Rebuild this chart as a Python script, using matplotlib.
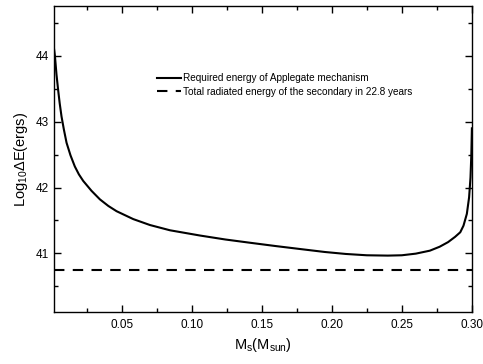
import numpy as np
import matplotlib
matplotlib.use("Agg")
import matplotlib.pyplot as plt
from matplotlib.ticker import MultipleLocator

plt.rcParams['font.family'] = ['Liberation Sans', 'DejaVu Sans']
plt.rcParams['mathtext.fontset'] = 'custom'
plt.rcParams['mathtext.rm'] = 'Liberation Sans'
plt.rcParams['mathtext.it'] = 'Liberation Sans'

# Datos
masa = [0.0018, 0.0024, 0.0035, 0.0047, 0.0058, 0.0071, 0.0088, 0.0107, 0.0135,
        0.0166, 0.0195, 0.0226, 0.0285, 0.0345, 0.0405, 0.0464, 0.0583,
        0.0702, 0.0845, 0.106, 0.124, 0.1418, 0.16, 0.1774, 0.195, 0.21,
        0.225, 0.24, 0.25, 0.26, 0.27, 0.277, 0.283, 0.288, 0.2917, 0.294,
        0.2964, 0.298, 0.299, 0.2996, 0.3]
energia_applegate = [44.10, 44.0, 43.72, 43.48, 43.28, 43.08, 42.88, 42.68, 42.49,
                     42.32, 42.20, 42.10, 41.95, 41.82, 41.72, 41.64, 41.52,
                     41.43, 41.35, 41.27, 41.21, 41.16, 41.11, 41.065, 41.02, 40.99,
                     40.97, 40.965, 40.97, 40.995, 41.04, 41.10, 41.17, 41.25, 41.32, 41.42,
                     41.60, 41.85, 42.15, 42.5, 42.9]
energia_radiada = 40.74

fig = plt.figure(figsize=(4.83, 3.64), dpi=100)
ax = fig.add_axes([0.112, 0.1415, 0.865, 0.842])

ax.plot(masa, energia_applegate, color='black', lw=1.5,
        label='Required energy of Applegate mechanism')
ax.axhline(energia_radiada, color='black', lw=1.5, ls=(0, (5, 4)),
           label='Total radiated energy of the secondary in 22.8 years')

ax.set_xlim(0.0018, 0.3)
ax.set_ylim(40.1, 44.76)
ax.xaxis.set_major_locator(MultipleLocator(0.05))
ax.xaxis.set_minor_locator(MultipleLocator(0.025))
ax.yaxis.set_major_locator(MultipleLocator(1))
ax.yaxis.set_minor_locator(MultipleLocator(0.5))
ax.set_xticks([0.05, 0.10, 0.15, 0.20, 0.25, 0.30])
ax.set_xticklabels(['0.05', '0.10', '0.15', '0.20', '0.25', '0.30'])
ax.tick_params(which='both', direction='in', top=True, right=True,
               labelsize=8.5, width=1)
ax.tick_params(which='major', length=5)
ax.tick_params(which='minor', length=3)
ax.tick_params(axis='x', pad=5)
for s in ax.spines.values():
    s.set_linewidth(1)

ax.set_xlabel(r'M$_{\rm s}$(M$_{\rm sun}$)', fontsize=10.5, labelpad=3)
ax.set_ylabel(r'Log$_{\rm 10}$$\Delta$E(ergs)', fontsize=10.5, labelpad=4)

ax.legend(loc='upper left', bbox_to_anchor=(0.225, 0.81), frameon=False,
          fontsize=7.2, handlelength=2.4, handletextpad=0.2, labelspacing=0.35)

fig.savefig('out.png', dpi=100)
